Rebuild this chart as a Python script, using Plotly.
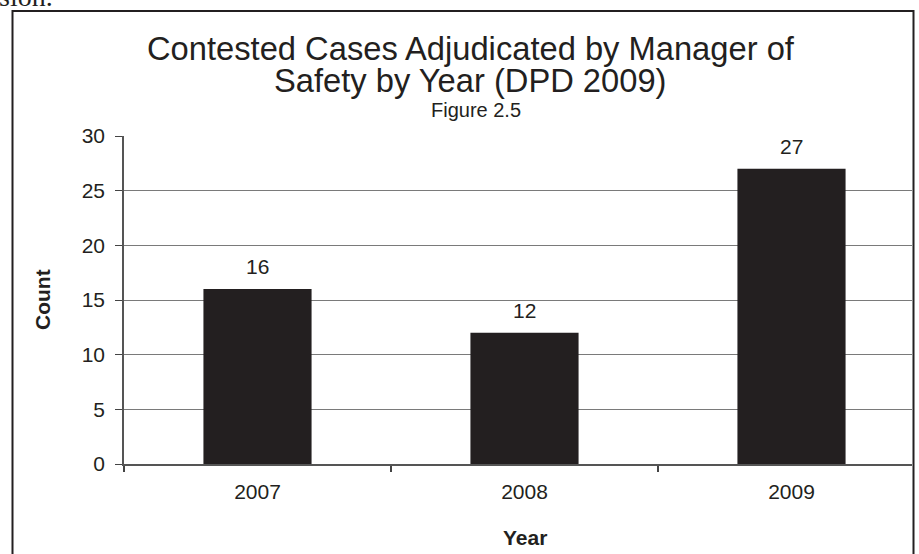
import plotly.graph_objects as go

# Datos
years = ["2007", "2008", "2009"]
counts = [16, 12, 27]
y_ticks = [0, 5, 10, 15, 20, 25, 30]

W, H = 919, 554
L, R, T, B = 124, 7, 136, 90
PW, PH = W - L - R, H - T - B


def px_x(x):
    # pixel -> coordenada paper
    return (x - L) / PW


def px_y(y):
    return (H - B - y) / PH


font = "Liberation Sans, Arial, sans-serif"
ink = "#231f20"

fig = go.Figure()

fig.add_trace(go.Bar(
    x=years,
    y=counts,
    marker_color=ink,
    marker_line_width=0,
    width=0.405,
    hoverinfo="skip",
))

# etiquetas encima de las barras
for i, c in enumerate(counts):
    fig.add_annotation(
        x=i, y=c, text=str(c), showarrow=False,
        yanchor="bottom", yshift=9,
        font=dict(family=font, size=21, color=ink),
    )

# titulo (tres lineas)
fig.add_annotation(xref="paper", yref="paper", x=px_x(471), y=px_y(48),
                   text="Contested Cases Adjudicated by Manager of", showarrow=False,
                   xanchor="center", yanchor="middle",
                   font=dict(family=font, size=32.7, color=ink))
fig.add_annotation(xref="paper", yref="paper", x=px_x(470), y=px_y(80),
                   text="Safety by Year (DPD 2009)", showarrow=False,
                   xanchor="center", yanchor="middle",
                   font=dict(family=font, size=32.7, color=ink))
fig.add_annotation(xref="paper", yref="paper", x=px_x(476), y=px_y(110),
                   text="Figure 2.5", showarrow=False,
                   xanchor="center", yanchor="middle",
                   font=dict(family=font, size=20, color=ink))

# titulos de ejes
fig.add_annotation(xref="paper", yref="paper", x=px_x(42), y=px_y(300),
                   text="<b>Count</b>", showarrow=False, textangle=-90,
                   xanchor="center", yanchor="middle",
                   font=dict(family=font, size=21, color=ink))
fig.add_annotation(xref="paper", yref="paper", x=px_x(525), y=px_y(537),
                   text="<b>Year</b>", showarrow=False,
                   xanchor="center", yanchor="middle",
                   font=dict(family=font, size=21, color=ink))

# texto recortado del documento
fig.add_annotation(xref="paper", yref="paper", x=px_x(-3), y=px_y(14),
                   text="sion.", showarrow=False,
                   xanchor="left", yanchor="bottom",
                   font=dict(family="Liberation Serif, serif", size=28, color=ink))

# marco
fig.add_shape(type="rect", xref="paper", yref="paper",
              x0=px_x(12.5), x1=px_x(913.5), y0=px_y(600), y1=px_y(11),
              line=dict(color=ink, width=2), fillcolor="rgba(0,0,0,0)", layer="above")

fig.update_layout(
    width=W, height=H,
    margin=dict(l=L, r=R, t=T, b=B),
    paper_bgcolor="white",
    plot_bgcolor="white",
    showlegend=False,
    font=dict(family=font, size=21, color=ink),
    xaxis=dict(
        type="category",
        range=[-0.5, -0.5 + (912 - L) / 267],
        tickson="boundaries",
        ticks="outside", ticklen=6, tickcolor="#444", tickwidth=1.5,
        showline=True, linecolor="#555", linewidth=1.5,
        showgrid=False,
        ticklabelstandoff=8,
        tickfont=dict(family=font, size=21, color=ink),
    ),
    yaxis=dict(
        range=[0, 30],
        tickvals=y_ticks,
        ticks="outside", ticklen=7, tickcolor="#444", tickwidth=1,
        showline=True, linecolor="#555", linewidth=1.5,
        showgrid=True, gridcolor="#7a7a7a", gridwidth=1,
        zeroline=False,
        ticklabelstandoff=6,
        tickfont=dict(family=font, size=21, color=ink),
    ),
)

fig.write_html(
    "out.html",
    config={"displayModeBar": False},
    post_script="document.body.style.margin='0';document.body.style.overflow='hidden';",
)
